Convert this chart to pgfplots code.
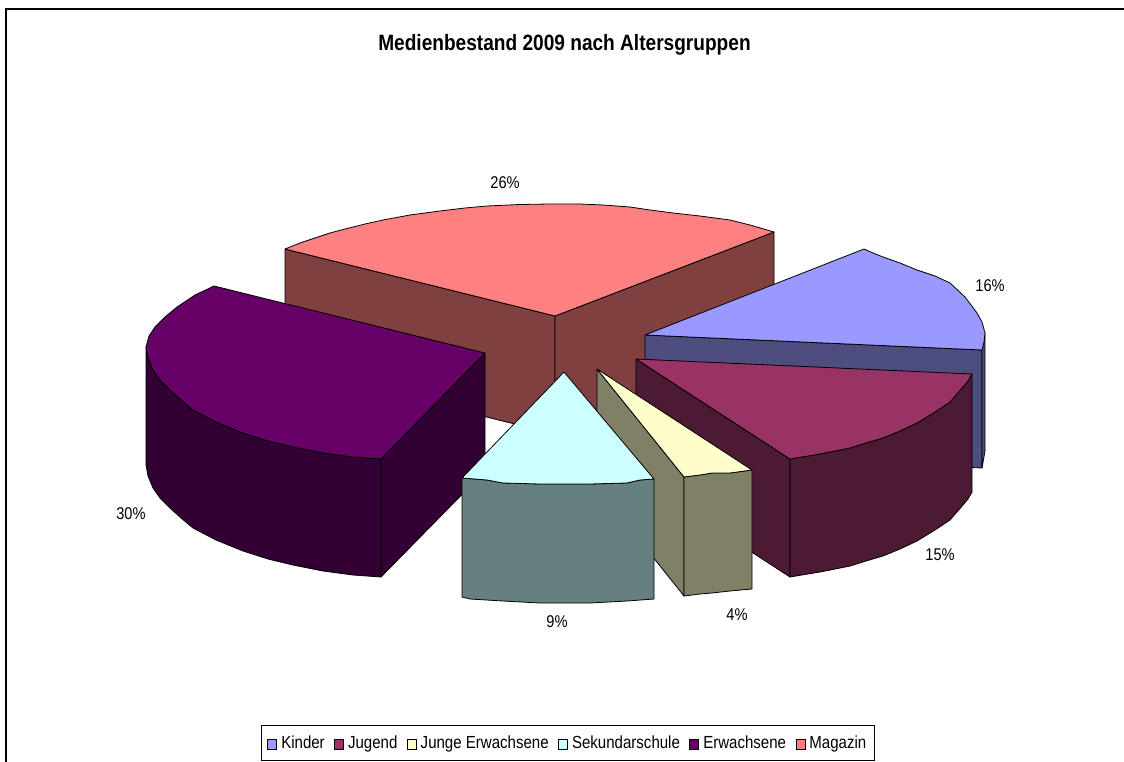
\documentclass[border=0pt]{standalone}
\usepackage{fontspec}
\setmainfont{Liberation Sans}[FakeStretch=0.86]
\usepackage{pgfplots}
\pgfplotsset{compat=1.18}
\definecolor{kt}{HTML}{9999FF}\definecolor{kw}{HTML}{4D4D80}
\definecolor{jt}{HTML}{993366}\definecolor{jw}{HTML}{4D1A33}
\definecolor{yt}{HTML}{FFFFCC}\definecolor{yw}{HTML}{808066}
\definecolor{st}{HTML}{CCFFFF}\definecolor{sw}{HTML}{668080}
\definecolor{et}{HTML}{660066}\definecolor{ew}{HTML}{330033}
\definecolor{mt}{HTML}{FF8080}\definecolor{mw}{HTML}{804040}
\begin{document}
\begin{tikzpicture}
\useasboundingbox (0,0) rectangle (1124pt,762pt);
\begin{axis}[
  at={(0,0)}, anchor=south west,
  scale only axis, width=1124pt, height=762pt,
  xmin=0, xmax=1124, ymin=0, ymax=762, y dir=reverse,
  hide axis, clip=true,
  title={\fontsize{22.2}{24}\selectfont\bfseries Medienbestand 2009 nach Altersgruppen},
  title style={at={(axis cs:564.5,51)}, anchor=center, yshift=0pt},
  pie/.style={draw=black, line width=0.8pt, line join=round, forget plot},
  legend columns=6,
  legend cell align=left,
  legend style={at={(axis cs:261,725)}, anchor=north west, draw=black, line width=0.9pt,
    font=\fontsize{17.5}{19}\selectfont, inner xsep=6pt, inner ysep=8.4pt,
    /tikz/every odd column/.append style={column sep=2pt},
    /tikz/every even column/.append style={column sep=7.5pt}},
  legend image code/.code={\draw[#1, line width=0.8pt] (0pt,-6pt) rectangle (9pt,4pt);},
]
% frame
\addplot[black, line width=2pt, forget plot] coordinates {(6,762)(6,9.5)(1124,9.5)};
% Magazin 26%
\addplot[pie, fill=mw] coordinates {(285,249)(555,316)(555,434)(285,367)(285,249)};
\addplot[pie, fill=mw] coordinates {(555,316)(774,232)(774,350)(555,434)(555,316)};
\addplot[pie, fill=mt] coordinates {(285,249)(300,243)(315,238)(330,233)(345,229)(365,224)(383,220)(410,215)(440,211)(465,208)(487,206)(520,204.5)(550,204)(580,204)(603,205)(630,207)(650,210)(673,213)(700,216)(730,220)(750,225)(774,232)(555,316)(285,249)};
% Kinder 16%
\addplot[pie, fill=kw] coordinates {(645,335)(982,350)(982,468)(645,453)(645,335)};
\addplot[pie, fill=kw] coordinates {(982,350)(985,333)(985,451)(982,468)(982,350)};
\addplot[pie, fill=kt] coordinates {(645,335)(864,249)(873,253)(883,257)(900,263)(917,270)(935,276)(950,283)(965,297)(977,313)(982,322)(985,333)(984,342)(982,350)(645,335)};
% Jugend 15%
\addplot[pie, fill=jw] coordinates {(636,359)(790,459)(790,577)(636,477)(636,359)};
\addplot[pie, fill=jw] coordinates {(790,459)(820,454)(850,448)(866,443)(883,438)(900,431)(917,423)(935,412)(950,402)(963,387)(968,381)(972,374)(972,492)(968,499)(963,505)(950,520)(935,530)(917,541)(900,549)(883,556)(866,561)(850,566)(820,572)(790,577)(790,459)};
\addplot[pie, fill=jt] coordinates {(636,359)(972,374)(968,381)(963,387)(950,402)(935,412)(917,423)(900,431)(883,438)(866,443)(850,448)(820,454)(790,459)(636,359)};
% Erwachsene 30%
\addplot[pie, fill=ew] coordinates {(485,353)(381,459)(381,577)(485,471)(485,353)};
\addplot[pie, fill=ew] coordinates {(146,347)(148,358)(153,370)(160,380)(170,390)(181,400)(193,410)(216,422)(243,433)(268,441)(293,447)(323,453)(353,457)(381,459)(381,577)(353,575)(323,571)(293,565)(268,559)(243,551)(216,540)(193,528)(181,518)(170,508)(160,498)(153,488)(148,476)(146,465)(146,347)};
\addplot[pie, fill=et] coordinates {(214,286)(195,295)(177,307)(165,317)(155,327)(149,336)(146,347)(148,358)(153,370)(160,380)(170,390)(181,400)(193,410)(216,422)(243,433)(268,441)(293,447)(323,453)(353,457)(381,459)(485,353)(214,286)};
% Junge Erwachsene 4%
\addplot[pie, fill=yw] coordinates {(597,369)(684,477)(684,596)(597,487)(597,369)};
\addplot[pie, fill=yw] coordinates {(684,477)(700,475)(712,473)(730,473)(752,470)(752,589)(730,591)(712,593)(700,594)(684,596)(684,477)};
\addplot[pie, fill=yt] coordinates {(597,369)(752,470)(730,473)(712,473)(700,475)(684,477)(597,369)};
% Sekundarschule 9%
\addplot[pie, fill=sw] coordinates {(462,478)(487,480)(503,483)(540,484)(590,484)(627,483)(640,480)(654,479)(654,599)(627,601)(590,603)(540,603)(503,601)(470,599)(462,597)(462,478)};
\addplot[pie, fill=st] coordinates {(564,372)(654,479)(640,480)(627,483)(590,484)(540,484)(503,483)(487,480)(462,478)(564,372)};
% legend entries
\addlegendimage{fill=kt}\addlegendentry{Kinder}
\addlegendimage{fill=jt}\addlegendentry{Jugend}
\addlegendimage{fill=yt}\addlegendentry{Junge Erwachsene}
\addlegendimage{fill=st}\addlegendentry{Sekundarschule}
\addlegendimage{fill=et}\addlegendentry{Erwachsene}
\addlegendimage{fill=mt}\addlegendentry{Magazin}
% data labels
\node[font=\fontsize{17}{19}\selectfont] at (axis cs:505,183) {26\%};
\node[font=\fontsize{17}{19}\selectfont] at (axis cs:990,286) {16\%};
\node[font=\fontsize{17}{19}\selectfont] at (axis cs:940,555) {15\%};
\node[font=\fontsize{17}{19}\selectfont] at (axis cs:737,615) {4\%};
\node[font=\fontsize{17}{19}\selectfont] at (axis cs:557,622) {9\%};
\node[font=\fontsize{17}{19}\selectfont] at (axis cs:131,514) {30\%};
\end{axis}
\end{tikzpicture}
\end{document}
